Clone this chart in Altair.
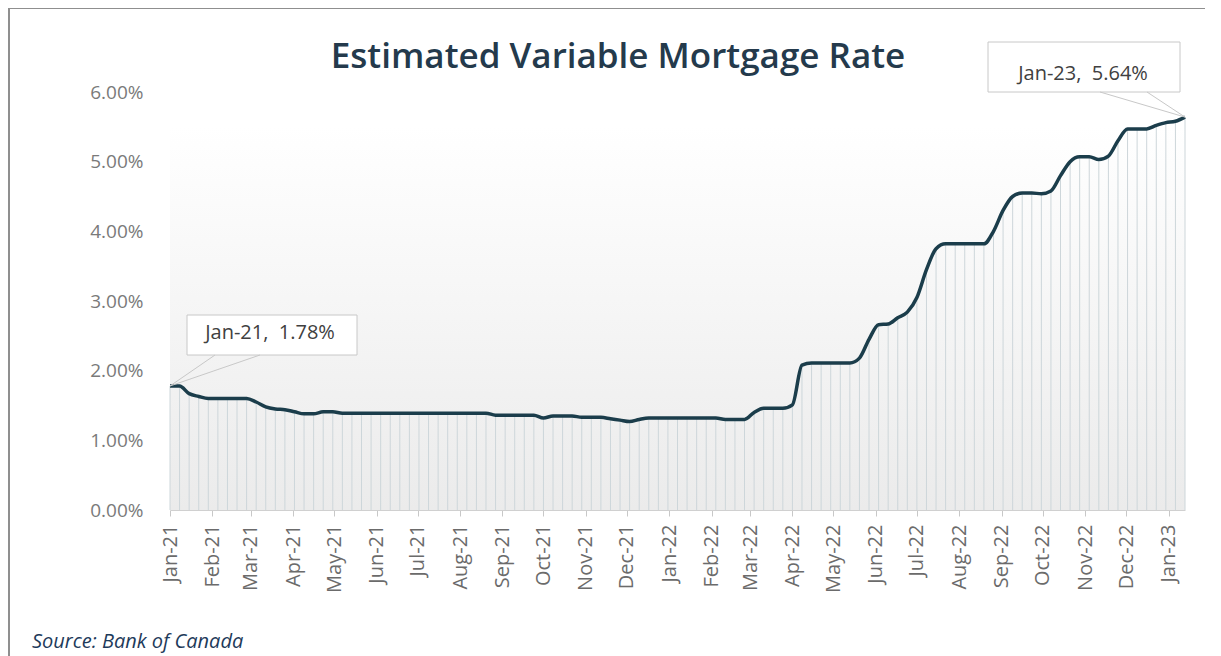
import altair as alt
import pandas as pd

# Weekly estimated variable mortgage rate (%)
rates = [
    1.78, 1.78, 1.67, 1.63, 1.60, 1.60, 1.60, 1.60, 1.60, 1.55,
    1.48, 1.45, 1.44, 1.41, 1.38, 1.38, 1.41, 1.41,
    1.39, 1.39, 1.39, 1.39, 1.39, 1.39, 1.39, 1.39, 1.39, 1.39,
    1.39, 1.39, 1.39, 1.39, 1.39, 1.39,
    1.36, 1.36, 1.36, 1.36, 1.36,
    1.32, 1.35, 1.35, 1.35, 1.33, 1.33, 1.33, 1.31, 1.29, 1.27, 1.30,
    1.32, 1.32, 1.32, 1.32, 1.32, 1.32, 1.32, 1.32,
    1.30, 1.30, 1.30, 1.40, 1.46, 1.46, 1.46, 1.51, 2.08,
    2.11, 2.11, 2.11, 2.11, 2.11,
    2.18, 2.45, 2.66, 2.67, 2.76, 2.84, 3.05, 3.45, 3.75,
    3.82, 3.82, 3.82, 3.82, 3.82,
    4.00, 4.30, 4.50, 4.55, 4.55, 4.54, 4.58, 4.80, 5.00, 5.07,
    5.07, 5.03, 5.08, 5.30, 5.47, 5.47, 5.47, 5.52, 5.56, 5.58, 5.64,
]
first_week = "2021-01-01"
dates = list(pd.date_range(first_week, periods=len(rates), freq="7D").strftime("%Y-%m-%d"))

month_ticks = list(pd.date_range("2021-01-01", "2023-01-01", freq="MS").strftime("%Y-%m-%d"))
y_ticks = [0, 1, 2, 3, 4, 5, 6]

title_text = "Estimated Variable Mortgage Rate"
source_text = "Source: Bank of Canada"
first_label = "Jan-21,\u00a0 1.78%"
last_label = "Jan-23,\u00a0 5.64%"

df = pd.DataFrame({"date": dates, "rate": rates})
first_pt = df.iloc[[0]]
last_pt = df.iloc[[-1]]
one = pd.DataFrame({"k": [0]})

W, H = 1015, 418
FONT = "Open Sans"

x_scale = alt.Scale(type="utc", domain=[dates[0], dates[-1]], nice=False)
y_scale = alt.Scale(domain=[0, 6], nice=False)

x_enc = alt.X(
    "date:T",
    scale=x_scale,
    axis=alt.Axis(
        values=[alt.DateTime(year=int(d[:4]), month=int(d[5:7]), date=1, utc=True) for d in month_ticks],
        labelExpr="utcFormat(datum.value, '%b-%y')",
        title=None,
        grid=False,
        labelAngle=270,
        labelAlign="right",
        labelBaseline="middle",
        labelPadding=8,
        labelFontSize=20,
        labelColor="#6b6b6b",
        labelFont=FONT,
        domainColor="#d0d0d0",
        tickColor="#c8c8c8",
        tickSize=6,
        labelOverlap=False,
    ),
)
y_enc = alt.Y(
    "rate:Q",
    scale=y_scale,
    axis=alt.Axis(
        values=y_ticks,
        labelExpr="format(datum.value, '.2f') + '%'",
        title=None,
        grid=False,
        domain=False,
        ticks=False,
        labelPadding=27,
        labelFontSize=19,
        labelColor="#7a7a7a",
        labelFont=FONT,
    ),
)

bg = alt.Chart(one).mark_rect(
    fill=alt.Gradient(
        gradient="linear",
        stops=[
            alt.GradientStop(color="#ffffff", offset=0),
            alt.GradientStop(color="#ffffff", offset=0.08),
            alt.GradientStop(color="#ebebeb", offset=1),
        ],
        x1=0, x2=0, y1=0, y2=1,
    )
).encode(x=alt.value(0), x2=alt.value(W), y=alt.value(0), y2=alt.value(H))

base = alt.Chart(df)
drops = base.mark_rule(color="#cdd6da", strokeWidth=1).encode(
    x=x_enc, y=y_enc, y2=alt.datum(0)
)
line = base.mark_line(color="#1b3d4b", strokeWidth=3.5, interpolate="monotone").encode(
    x=x_enc, y=y_enc
)

# Callout 1 (first point)
box1 = alt.Chart(one).mark_rect(fill="white", stroke="#c8c8c8", strokeWidth=1).encode(
    x=alt.value(17), x2=alt.value(187), y=alt.value(223), y2=alt.value(263)
)
w1a = alt.Chart(first_pt).mark_rule(color="#c8c8c8", strokeWidth=1).encode(
    x=alt.X("date:T", scale=x_scale), y=alt.Y("rate:Q", scale=y_scale),
    x2=alt.value(45), y2=alt.value(263)
)
w1b = alt.Chart(first_pt).mark_rule(color="#c8c8c8", strokeWidth=1).encode(
    x=alt.X("date:T", scale=x_scale), y=alt.Y("rate:Q", scale=y_scale),
    x2=alt.value(90), y2=alt.value(263)
)
t1 = alt.Chart(one).mark_text(
    text=first_label, font=FONT, fontSize=20, color="#404040", align="center", baseline="middle"
).encode(x=alt.value(100), y=alt.value(241))

# Callout 2 (last point)
box2 = alt.Chart(one).mark_rect(fill="white", stroke="#c8c8c8", strokeWidth=1).encode(
    x=alt.value(818), x2=alt.value(1010), y=alt.value(-50), y2=alt.value(0)
)
w2a = alt.Chart(last_pt).mark_rule(color="#c8c8c8", strokeWidth=1).encode(
    x=alt.X("date:T", scale=x_scale), y=alt.Y("rate:Q", scale=y_scale),
    x2=alt.value(930), y2=alt.value(0)
)
w2b = alt.Chart(last_pt).mark_rule(color="#c8c8c8", strokeWidth=1).encode(
    x=alt.X("date:T", scale=x_scale), y=alt.Y("rate:Q", scale=y_scale),
    x2=alt.value(977), y2=alt.value(0)
)
t2 = alt.Chart(one).mark_text(
    text=last_label, font=FONT, fontSize=20, color="#404040", align="center", baseline="middle"
).encode(x=alt.value(913), y=alt.value(-18))

title = alt.Chart(one).mark_text(
    text=title_text, font=FONT, fontSize=35, fontWeight=600, color="#243a4c",
    align="center", baseline="alphabetic"
).encode(x=alt.value(448), y=alt.value(-24))

source = alt.Chart(one).mark_text(
    text=source_text, font=FONT, fontSize=20, fontStyle="italic", color="#1e3a5a",
    align="left", baseline="alphabetic"
).encode(x=alt.value(-138), y=alt.value(556))

frame = alt.Chart(one).mark_rect(fillOpacity=0, stroke="#8f8f8f", strokeWidth=2).encode(
    x=alt.value(-161), x2=alt.value(1044), y=alt.value(-84), y2=alt.value(580)
)

chart = alt.layer(
    bg, drops, line, box1, w1a, w1b, t1, box2, w2a, w2b, t2, title, source, frame
).properties(
    width=W,
    height=H,
    padding={"left": 162, "top": 84, "right": 20, "bottom": 146},
    autosize=alt.AutoSizeParams(type="none"),
    background="white",
).configure_view(stroke=None)

chart.save("out.html", embed_options={"renderer": "svg", "actions": False})
